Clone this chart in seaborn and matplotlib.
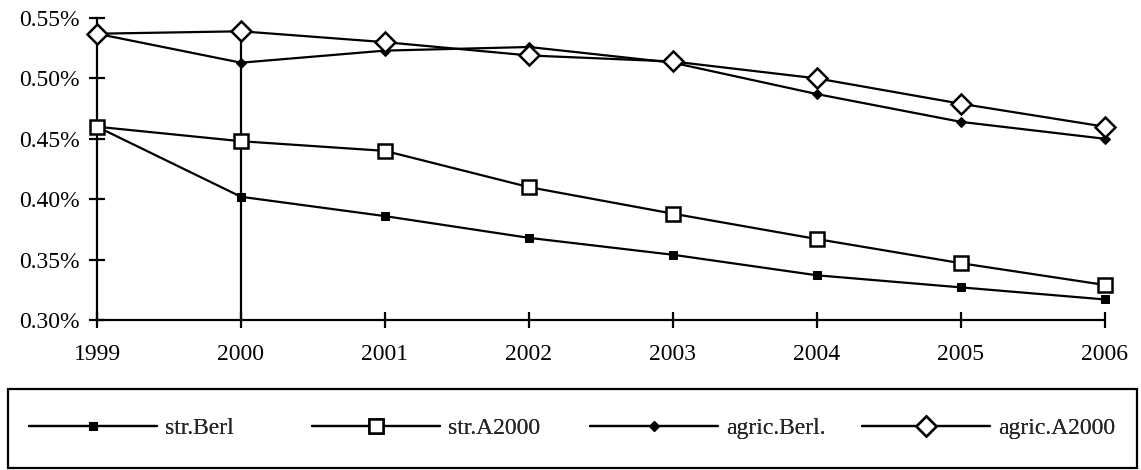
import matplotlib
matplotlib.use("Agg")
import matplotlib.pyplot as plt
import seaborn as sns
import pandas as pd
from matplotlib.ticker import FuncFormatter
from matplotlib.patches import Rectangle

years = [1999, 2000, 2001, 2002, 2003, 2004, 2005, 2006]
str_berl = [0.460, 0.402, 0.386, 0.368, 0.354, 0.337, 0.327, 0.317]
str_a2000 = [0.460, 0.448, 0.440, 0.410, 0.388, 0.367, 0.347, 0.329]
agric_berl = [0.537, 0.513, 0.523, 0.526, 0.513, 0.487, 0.464, 0.450]
agric_a2000 = [0.537, 0.539, 0.530, 0.519, 0.514, 0.500, 0.479, 0.460]
series_names = ["str.Berl", "str.A2000", "agric.Berl.", "agric.A2000"]
y_ticks = [0.30, 0.35, 0.40, 0.45, 0.50, 0.55]

sns.set_style("ticks")
plt.rcParams["font.family"] = ["Liberation Serif", "DejaVu Serif"]

W, H = 1141, 470
fig = plt.figure(figsize=(W / 100, H / 100), dpi=100)
ax = fig.add_axes([97 / W, 1 - 320 / H, (1105 - 97) / W, (320 - 18) / H])

values = [str_berl, str_a2000, agric_berl, agric_a2000]
styles = [
    dict(marker="s", markersize=6, markerfacecolor="black"),
    dict(marker="s", markersize=10, markerfacecolor="white", markeredgewidth=1.8),
    dict(marker="D", markersize=5, markerfacecolor="black"),
    dict(marker="D", markersize=10, markerfacecolor="white", markeredgewidth=1.8),
]
handles = []
for name, vals, st in zip(series_names, values, styles):
    df = pd.DataFrame({"year": years, "value": vals})
    sns.lineplot(data=df, x="year", y="value", ax=ax, color="black",
                 linewidth=1.6, markeredgecolor="black", zorder=3, **st)
    ln = ax.lines[-1]
    ln.set_clip_on(False)
    handles.append(ln)

ax.vlines(2000, 0.30, agric_a2000[1], color="black", linewidth=1.6, zorder=2)

ax.set_xlim(1999, 2006)
ax.set_ylim(0.30, 0.55)
ax.set_xticks(years)
ax.set_yticks(y_ticks)
ax.yaxis.set_major_formatter(FuncFormatter(lambda v, p: f"{v:.2f}%"))
ax.set_xlabel("")
ax.set_ylabel("")
for s in ["top", "right"]:
    ax.spines[s].set_visible(False)
for s in ["left", "bottom"]:
    ax.spines[s].set_linewidth(1.6)
    ax.spines[s].set_color("black")
ax.tick_params(axis="both", direction="inout", length=11, width=1.6,
               labelsize=17, colors="black")
ax.tick_params(axis="x", pad=12)
ax.tick_params(axis="y", pad=7)

# legend frame
fig.patches.append(Rectangle((8 / W, 1 - 468 / H), (1137 - 8) / W, (468 - 389) / H,
                             transform=fig.transFigure, fill=False,
                             edgecolor="black", linewidth=1.6))
x_starts = [29, 312, 590, 862]
for h, name, xs in zip(handles, series_names, x_starts):
    lg = fig.legend([h], [name], loc="center left",
                    bbox_to_anchor=(xs / W, 1 - 428 / H), frameon=False,
                    handlelength=5.4, handletextpad=0.35, fontsize=17,
                    borderpad=0, borderaxespad=0)
    fig.add_artist(lg)

fig.savefig("out.png", dpi=100)
